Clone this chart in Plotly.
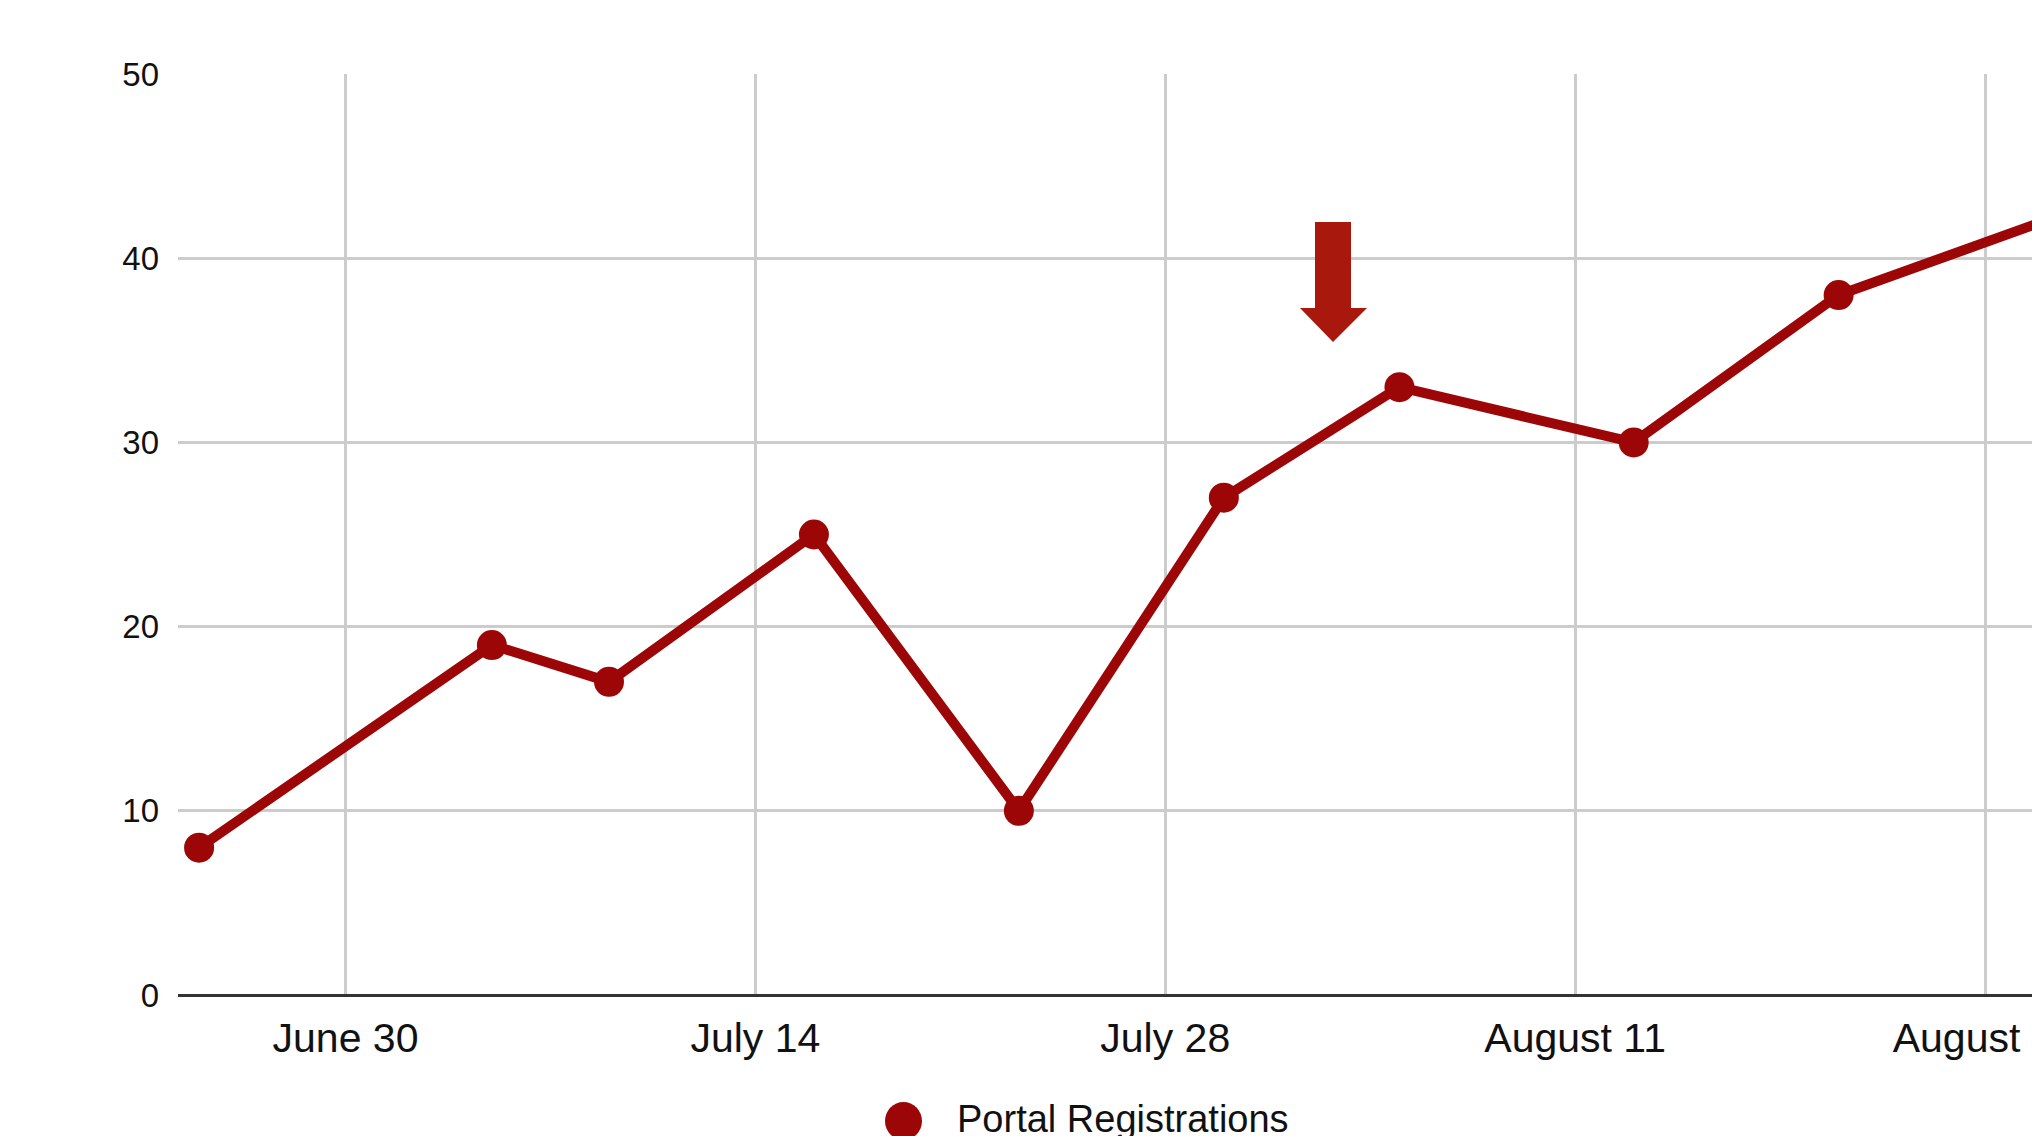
import plotly.graph_objects as go

# ---- data ----
dates = ["2024-06-25", "2024-07-05", "2024-07-09", "2024-07-16", "2024-07-23",
         "2024-07-30", "2024-08-05", "2024-08-13", "2024-08-20", "2024-08-27"]
registrations = [8, 19, 17, 25, 10, 27, 33, 30, 38, 42]
series_name = "Portal Registrations"

tick_dates = ["2024-06-30", "2024-07-14", "2024-07-28", "2024-08-11", "2024-08-25"]
tick_labels = ["June 30", "July 14", "July 28", "August 11", "August 25"]
y_ticks = [0, 10, 20, 30, 40, 50]

# ---- style ----
RED = "#9c0606"
FONT = "Liberation Sans, Arial, sans-serif"
W, H = 2032, 1136
L, R, T, B = 178, 0, 74, 141


def px_to_paper(x, y):
    return (x - L) / (W - L - R), (H - B - y) / (H - T - B)


fig = go.Figure()
fig.add_trace(go.Scatter(
    x=dates, y=registrations, name=series_name, mode="lines+markers",
    line=dict(color=RED, width=10),
    marker=dict(color=RED, size=30),
    cliponaxis=False, showlegend=False,
))

# down arrow (decorative)
ax0, ay0 = px_to_paper(1315, 222)
ax1, _ = px_to_paper(1351, 222)
_, ay_head = px_to_paper(0, 308)
hx0, _ = px_to_paper(1300, 0)
hx1, _ = px_to_paper(1367, 0)
tx, ty = px_to_paper(1333, 342)
path = (f"M {ax0},{ay0} L {ax1},{ay0} L {ax1},{ay_head} L {hx1},{ay_head} "
        f"L {tx},{ty} L {hx0},{ay_head} L {ax0},{ay_head} Z")
fig.add_shape(type="path", xref="paper", yref="paper", path=path,
              fillcolor="#a8180c", line=dict(width=0), layer="above")

# custom legend
cx0, cy0 = px_to_paper(885, 1102)
cx1, cy1 = px_to_paper(922, 1140)
fig.add_shape(type="circle", xref="paper", yref="paper",
              x0=cx0, x1=cx1, y0=cy1, y1=cy0,
              fillcolor=RED, line=dict(width=0))
lx, ly = px_to_paper(955, 1119)
fig.add_annotation(xref="paper", yref="paper", x=lx, y=ly, xanchor="left",
                   yanchor="middle", text=series_name, showarrow=False,
                   font=dict(family=FONT, size=38, color="#111111"))

fig.update_layout(
    width=W, height=H, autosize=False,
    margin=dict(l=L, r=R, t=T, b=B, pad=0, autoexpand=False),
    paper_bgcolor="white", plot_bgcolor="white",
    font=dict(family=FONT, color="#222222"),
    showlegend=False,
)
fig.update_xaxes(
    type="date",
    range=["2024-06-24 06:42", "2024-08-26 14:31"],
    tickvals=tick_dates, ticktext=tick_labels,
    showgrid=True, gridcolor="#cccccc", gridwidth=2.5,
    zeroline=False, showline=False, ticks="",
    tickfont=dict(family=FONT, size=41, color="#111111"),
    ticklabelstandoff=15,
    ticklabeloverflow="allow",
    automargin=False,
)
fig.update_yaxes(
    range=[0, 50], tickvals=y_ticks,
    showgrid=True, gridcolor="#cccccc", gridwidth=2.5,
    zeroline=True, zerolinecolor="#333333", zerolinewidth=3,
    showline=False, ticks="",
    tickfont=dict(family=FONT, size=33, color="#111111"),
    ticklabelstandoff=18,
    automargin=False,
)

fig.write_html("out.html")
